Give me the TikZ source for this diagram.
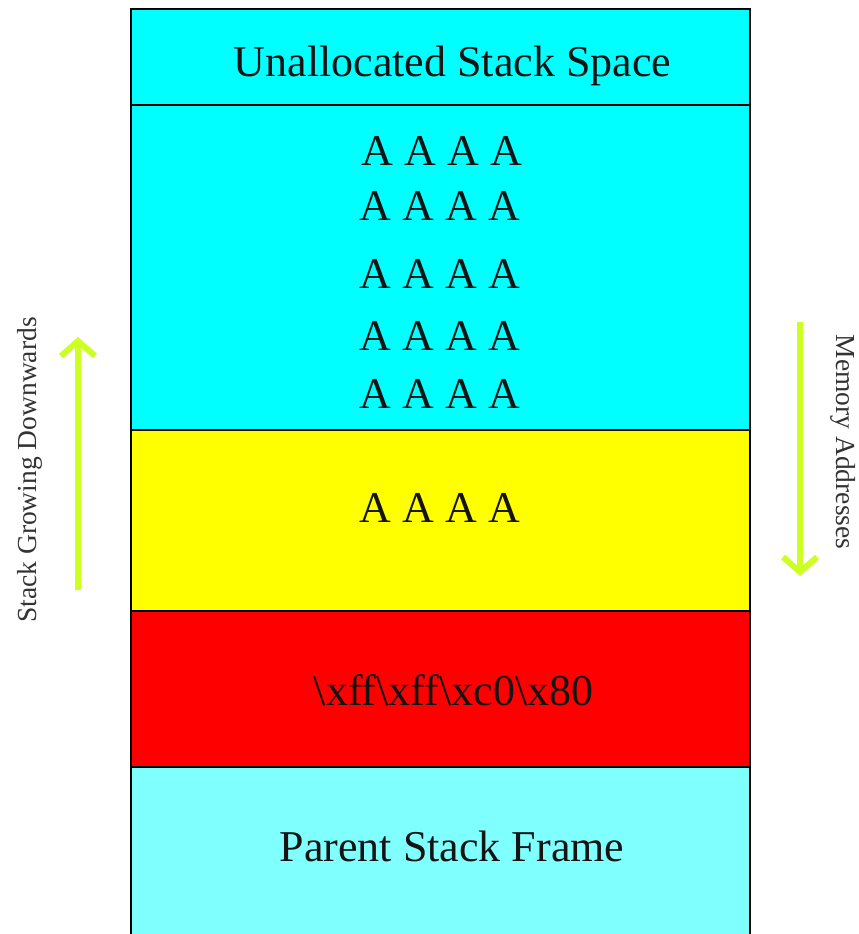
\documentclass[tikz,border=0pt]{standalone}
\usepackage{fontspec}
\setmainfont{Liberation Serif}
\usetikzlibrary{arrows.meta}

\definecolor{bandcyan}{HTML}{00FFFF}
\definecolor{bandyellow}{HTML}{FFFF00}
\definecolor{bandred}{HTML}{FF0000}
\definecolor{bandpale}{HTML}{80FFFF}
\definecolor{arrowgreen}{HTML}{CCFF22}
\definecolor{sidegray}{HTML}{333333}
\definecolor{inktext}{HTML}{141414}

\begin{document}
\begin{tikzpicture}[x=1pt,y=-1pt,
  band/.style={draw=black, line width=1.3pt},
  celltext/.style={font=\fontsize{44}{48}\selectfont, text=inktext, inner sep=0pt, anchor=base},
  sidelabel/.style={font=\fontsize{27.5}{30}\selectfont, text=sidegray, inner sep=0pt},
  growarrow/.style={draw=arrowgreen, line width=6pt, -{Straight Barb[length=15pt,width=34pt]}}]

  \useasboundingbox (0,0) rectangle (859,934);
  \clip (0,0) rectangle (859,934);

  % stack bands, top to bottom
  \path[band, fill=bandcyan]   (131,9)   rectangle (750,105);
  \path[band, fill=bandcyan]   (131,105) rectangle (750,430);
  \path[band, fill=bandyellow] (131,430) rectangle (750,611);
  \path[band, fill=bandred]    (131,611) rectangle (750,767);
  \path[band, fill=bandpale]   (131,767) rectangle (750,945);

  % band contents
  \node[celltext] (unalloc) at (452.5,77) {Unallocated Stack Space};
  \node[celltext] (fill1) at (442,165) {A A A A};
  \node[celltext] (fill2) at (440,220) {A A A A};
  \node[celltext] (fill3) at (440,288) {A A A A};
  \node[celltext] (fill4) at (440,350) {A A A A};
  \node[celltext] (fill5) at (440,408) {A A A A};
  \node[celltext] (ebp)   at (440,522) {A A A A};
  \node[celltext] (ret)   at (453.5,705) {\textbackslash xff\textbackslash xff\textbackslash xc0\textbackslash x80};
  \node[celltext] (parent) at (452,861) {Parent Stack Frame};

  % direction arrows
  \coordinate (growtail) at (78,590);
  \coordinate (growtip)  at (78,337);
  \draw[growarrow] (growtail) -- (growtip);
  \coordinate (memtail) at (800,322);
  \coordinate (memtip)  at (800,576);
  \draw[growarrow] (memtail) -- (memtip);

  % side captions
  \node[sidelabel, rotate=90]  (growlabel) at (30,470) {Stack Growing Downwards};
  \node[sidelabel, rotate=-90] (memlabel)  at (843,442) {Memory Addresses};
\end{tikzpicture}
\end{document}
